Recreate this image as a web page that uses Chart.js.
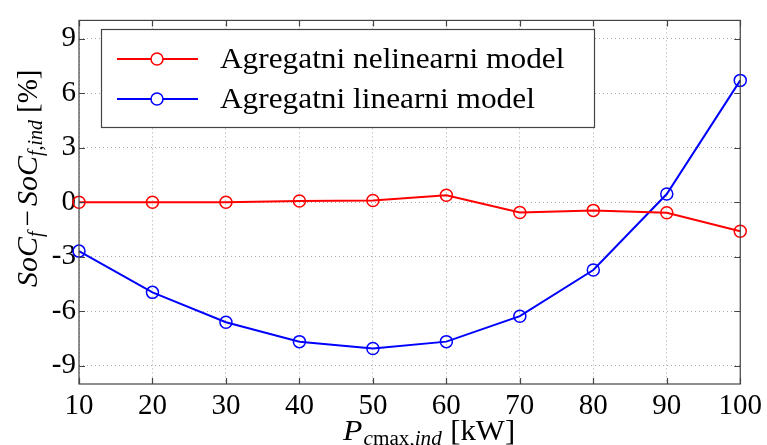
<!DOCTYPE html>
<html>
<head>
<meta charset="utf-8">
<script src="https://cdn.jsdelivr.net/npm/chart.js@4.4.1/dist/chart.umd.min.js"></script>
<style>
html,body{margin:0;padding:0;background:#fff;}
#wrap{width:767px;height:445px;position:relative;}
</style>
</head>
<body>
<div id="wrap"><canvas id="c" width="767" height="445"></canvas></div>
<script>
const categories = ['10','20','30','40','50','60','70','80','90','100'];
const nelinearni = [0, 0, 0, 0.07, 0.09, 0.38, -0.57, -0.45, -0.58, -1.6];
const linearni = [-2.69, -4.96, -6.6, -7.67, -8.05, -7.67, -6.27, -3.73, 0.45, 6.7];
const yTicks = [-9, -6, -3, 0, 3, 6, 9];
const seriesLabels = ['Agregatni nelinearni model', 'Agregatni linearni model'];

const SERIF = '"Liberation Serif", "Times New Roman", serif';
const AXIS_COLOR = '#444';

function drawRuns(ctx, runs, x, y, sx) {
  ctx.save();
  ctx.translate(x, y);
  ctx.scale(sx || 1, 1);
  let cx = 0;
  for (const r of runs) {
    ctx.font = r.font;
    ctx.fillText(r.text, cx, r.dy || 0);
    cx += ctx.measureText(r.text).width + (r.kern || 0);
  }
  ctx.restore();
}

const framePlugin = {
  id: 'frame',
  afterDatasetsDraw(chart) {
    const ctx = chart.ctx;
    const a = chart.chartArea;
    ctx.save();
    ctx.strokeStyle = AXIS_COLOR;
    ctx.lineWidth = 1.2;
    ctx.strokeRect(a.left, a.top, a.right - a.left, a.bottom - a.top);
    // inside ticks
    const tl = 6;
    ctx.beginPath();
    const ys = chart.scales.y;
    for (const t of yTicks) {
      const py = Math.round(ys.getPixelForValue(t)) + 0.5;
      ctx.moveTo(a.left, py); ctx.lineTo(a.left + tl, py);
      ctx.moveTo(a.right, py); ctx.lineTo(a.right - tl, py);
    }
    const xs = chart.scales.x;
    for (let i = 0; i < categories.length; i++) {
      const px = Math.round(xs.getPixelForValue(i)) + 0.5;
      ctx.moveTo(px, a.bottom); ctx.lineTo(px, a.bottom - tl);
      ctx.moveTo(px, a.top); ctx.lineTo(px, a.top + tl);
    }
    ctx.stroke();

    // legend
    const lx = 101, ly = 29, lw = 493, lh = 98;
    ctx.fillStyle = '#fff';
    ctx.fillRect(lx, ly, lw, lh);
    ctx.strokeStyle = AXIS_COLOR;
    ctx.lineWidth = 1.2;
    ctx.strokeRect(lx + 0.5, ly + 0.5, lw, lh);
    const rows = [59, 99];
    chart.data.datasets.forEach((ds, i) => {
      const y = rows[i];
      ctx.strokeStyle = ds.borderColor;
      ctx.lineWidth = 2;
      ctx.beginPath();
      ctx.moveTo(117, y); ctx.lineTo(198, y);
      ctx.stroke();
      ctx.lineWidth = 1.5;
      ctx.beginPath();
      ctx.arc(157, y, 6, 0, Math.PI * 2);
      ctx.fillStyle = '#fff';
      ctx.fill();
      ctx.stroke();
      ctx.fillStyle = '#000';
      ctx.textBaseline = 'middle';
      ctx.textAlign = 'left';
      drawRuns(ctx, [{text: ds.label, font: '29px ' + SERIF}], 220, y + 1, 1.08);
    });

    // x title
    ctx.fillStyle = '#000';
    ctx.textBaseline = 'alphabetic';
    ctx.textAlign = 'left';
    drawRuns(ctx, [
      {text: 'P', font: 'italic 30px ' + SERIF, kern: 1},
      {text: 'c', font: 'italic 20px ' + SERIF, dy: 5},
      {text: 'max,', font: '20px ' + SERIF, dy: 5},
      {text: 'ind', font: 'italic 20px ' + SERIF, dy: 5, kern: 8},
      {text: '[kW]', font: '29px ' + SERIF}
    ], 343, 440, 1.06);

    // y title
    ctx.translate(37, 287);
    ctx.rotate(-Math.PI / 2);
    drawRuns(ctx, [
      {text: 'SoC', font: 'italic 30px ' + SERIF},
      {text: 'f', font: 'italic 20px ' + SERIF, dy: 5, kern: 5},
      {text: '\u2212', font: '29px ' + SERIF, kern: 4},
      {text: 'SoC', font: 'italic 30px ' + SERIF},
      {text: 'f', font: 'italic 20px ' + SERIF, dy: 5},
      {text: ',', font: '20px ' + SERIF, dy: 5},
      {text: 'ind', font: 'italic 20px ' + SERIF, dy: 5, kern: 7},
      {text: '[%]', font: '29px ' + SERIF}
    ], 0, 0, 1.0);
    ctx.restore();
  }
};

new Chart(document.getElementById('c'), {
  type: 'line',
  data: {
    labels: categories,
    datasets: [
      {
        label: seriesLabels[0],
        data: nelinearni,
        borderColor: '#ff0000',
        backgroundColor: '#ff0000',
        borderWidth: 2,
        pointRadius: 6,
        pointBorderWidth: 1.5,
        pointBackgroundColor: 'rgba(0,0,0,0)',
        pointBorderColor: '#ff0000',
        tension: 0,
        clip: false
      },
      {
        label: seriesLabels[1],
        data: linearni,
        borderColor: '#0000ff',
        backgroundColor: '#0000ff',
        borderWidth: 2,
        pointRadius: 6,
        pointBorderWidth: 1.5,
        pointBackgroundColor: 'rgba(0,0,0,0)',
        pointBorderColor: '#0000ff',
        tension: 0,
        clip: false
      }
    ]
  },
  options: {
    responsive: false,
    animation: false,
    devicePixelRatio: 1,
    layout: { padding: { top: 14, right: 22, left: 0, bottom: 0 } },
    plugins: { legend: { display: false }, tooltip: { enabled: false } },
    scales: {
      x: {
        type: 'category',
        offset: false,
        grid: { color: '#aaa', lineWidth: 1, drawTicks: false },
        border: { display: false, dash: [1, 3] },
        ticks: { color: '#000', font: { family: SERIF, size: 29 }, padding: 5, maxRotation: 0, autoSkip: false },
        afterFit(s) { s.height = 61; }
      },
      y: {
        min: -10, max: 10,
        afterBuildTicks(s) { s.ticks = yTicks.map(v => ({ value: v })); },
        grid: { color: '#aaa', lineWidth: 1, drawTicks: false },
        border: { display: false, dash: [1, 3] },
        ticks: { color: '#000', font: { family: SERIF, size: 29 }, padding: 3 },
        afterFit(s) { s.width = 79; }
      }
    }
  },
  plugins: [framePlugin]
});
</script>
</body>
</html>
